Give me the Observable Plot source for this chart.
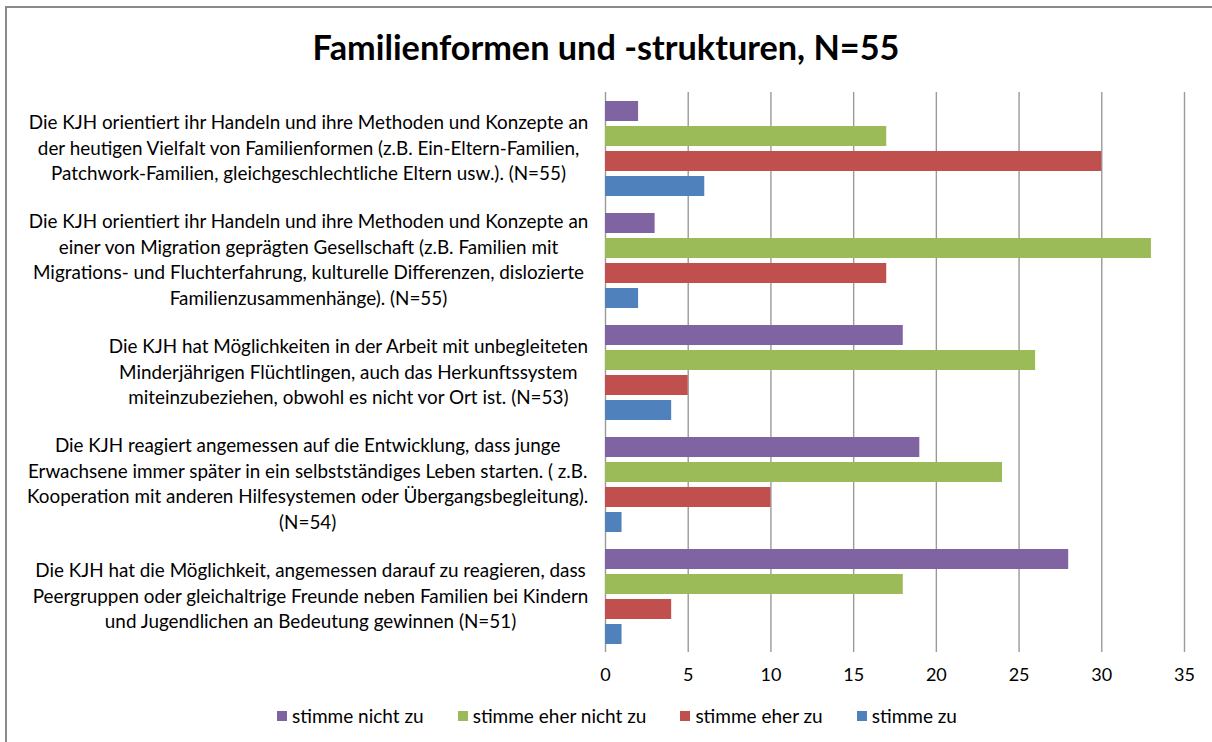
<!DOCTYPE html>
<html>
<head>
<meta charset="utf-8">
<script src="https://cdn.jsdelivr.net/npm/d3@7"></script>
<script src="https://cdn.jsdelivr.net/npm/@observablehq/plot@0.6"></script>
<style>
  html, body { margin: 0; padding: 0; background: #fff; }
  body { width: 1212px; height: 742px; position: relative; overflow: hidden; font-family: Lato, sans-serif; }
  #frame { position: absolute; left: 5px; top: 6px; width: 1300px; height: 800px; border-left: 2px solid #8a8a8a; border-top: 2px solid #8a8a8a; }
  #title { position: absolute; left: 0; width: 1212px; text-align: center; font-weight: bold; color: #000; white-space: nowrap; }
  #chart { position: absolute; left: 0; top: 80px; }
  #legend { position: absolute; left: 0; width: 1212px; top: 704px; display: flex; justify-content: center; gap: 34px; color: #000; transform: translateX(11px); }
  .item { display: flex; align-items: center; gap: 5px; white-space: nowrap; }
  .sw { width: 10px; height: 10px; display: inline-block; }
</style>
</head>
<body>
<div id="frame"></div>
<div id="title"></div>
<div id="chart"></div>
<div id="legend"></div>
<script>
const titleText = "Familienformen und -strukturen, N=55";
const categories = [
  "Die KJH orientiert ihr Handeln und ihre Methoden und Konzepte an\nder heutigen Vielfalt von Familienformen (z.B. Ein-Eltern-Familien,\nPatchwork-Familien, gleichgeschlechtliche Eltern usw.). (N=55)",
  "Die KJH orientiert ihr Handeln und ihre Methoden und Konzepte an\neiner von Migration geprägten Gesellschaft (z.B. Familien mit\nMigrations- und Fluchterfahrung, kulturelle Differenzen, dislozierte\nFamilienzusammenhänge). (N=55)",
  "Die KJH hat Möglichkeiten in der Arbeit mit unbegleiteten\nMinderjährigen Flüchtlingen, auch das Herkunftssystem\nmiteinzubeziehen, obwohl es nicht vor Ort ist. (N=53)",
  "Die KJH reagiert angemessen auf die Entwicklung, dass junge\nErwachsene immer später in ein selbstständiges Leben starten. ( z.B.\nKooperation mit anderen Hilfesystemen oder Übergangsbegleitung).\n(N=54)",
  "Die KJH hat die Möglichkeit, angemessen darauf zu reagieren, dass\nPeergruppen oder gleichaltrige Freunde neben Familien bei Kindern\nund Jugendlichen an Bedeutung gewinnen (N=51)"
];
const series = ["stimme nicht zu", "stimme eher nicht zu", "stimme eher zu", "stimme zu"];
const stimmeNichtZu     = [2, 3, 18, 19, 28];
const stimmeEherNichtZu = [17, 33, 26, 24, 18];
const stimmeEherZu      = [30, 17, 5, 10, 4];
const stimmeZu          = [6, 2, 4, 1, 1];
const seriesColors = ["#8064A2", "#9BBB59", "#C0504D", "#4F81BD"];
const xTicks = [0, 5, 10, 15, 20, 25, 30, 35];

const valuesBySeries = [stimmeNichtZu, stimmeEherNichtZu, stimmeEherZu, stimmeZu];
const rows = [];
categories.forEach((cat, i) => {
  series.forEach((s, j) => rows.push({cat, series: s, value: valuesBySeries[j][i]}));
});

// text measuring for Excel-like centered, right-aligned label blocks
const ctx = document.createElement("canvas").getContext("2d");
function measure(text, size, weight) {
  ctx.font = `${weight || "normal"} ${size}px Lato`;
  return ctx.measureText(text).width;
}
const labelSize = 18 * 560 / measure(categories[0].split("\n")[0], 18);
const titleSize = 32 * 587 / measure(titleText, 32, "bold");
const tickSize = 18;
const legendSize = 19;

const title = document.getElementById("title");
title.textContent = titleText;
title.style.fontSize = titleSize + "px";
title.style.lineHeight = "40px";
title.style.top = "27px";

const labelMarks = categories.map(cat => {
  const maxW = d3.max(cat.split("\n"), l => measure(l, labelSize));
  return Plot.text([cat], {
    fy: d => d,
    text: d => d,
    frameAnchor: "left",
    textAnchor: "middle",
    dx: -(17 + maxW / 2),
    dy: -2,
    fontSize: labelSize,
    lineHeight: 25.5 / labelSize,
    fill: "#000"
  });
});

const chart = Plot.plot({
  width: 1212,
  height: 612,
  marginTop: 12,
  marginBottom: 40,
  marginLeft: 605,
  marginRight: 28,
  style: {fontFamily: "Lato, sans-serif", color: "#000", background: "transparent"},
  x: {domain: [0, 35]},
  fy: {domain: categories, padding: 0, axis: null},
  y: {domain: series, paddingInner: 0.2, paddingOuter: 0.34, axis: null},
  color: {domain: series, range: seriesColors},
  marks: [
    Plot.gridX(xTicks, {stroke: "#9a9a9a", strokeOpacity: 1, strokeWidth: 1.4}),
    Plot.barX(rows, {x: "value", y: "series", fy: "cat", fill: "series"}),
    Plot.axisX(xTicks, {tickSize: 0, tickPadding: 16, fontSize: tickSize, label: null, fill: "#000"}),
    ...labelMarks
  ]
});
document.getElementById("chart").appendChild(chart);

const legend = document.getElementById("legend");
series.forEach((s, j) => {
  const item = document.createElement("div");
  item.className = "item";
  const sw = document.createElement("span");
  sw.className = "sw";
  sw.style.background = seriesColors[j];
  const t = document.createElement("span");
  t.textContent = s;
  t.style.fontSize = legendSize + "px";
  item.appendChild(sw);
  item.appendChild(t);
  legend.appendChild(item);
});
</script>
</body>
</html>
